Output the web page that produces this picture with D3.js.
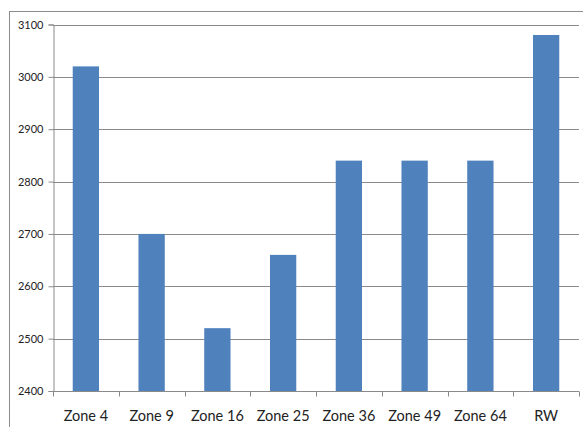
<!DOCTYPE html>
<html>
<head>
<meta charset="utf-8">
<script src="https://cdn.jsdelivr.net/npm/d3@7"></script>
<style>
  body { margin: 0; background: #fff; }
  svg text { font-family: Lato, "Open Sans", sans-serif; fill: #222; }
</style>
</head>
<body>
<div id="chart"></div>
<script>
// Data
var zones = ["Zone 4", "Zone 9", "Zone 16", "Zone 25", "Zone 36", "Zone 49", "Zone 64", "RW"];
var values = [3020, 2700, 2520, 2660, 2840, 2840, 2840, 3080];
var yTicks = [2400, 2500, 2600, 2700, 2800, 2900, 3000, 3100];

// Placement
var width = 583, height = 427,
  pLeft = 53, pRight = 579,
  pTop = 24.5, pBottom = 391;

var svg = d3.select("#chart")
  .append("svg")
  .attr("width", width)
  .attr("height", height);

// outer chart border
svg.append("rect")
  .attr("x", 9.5)
  .attr("y", 11.5)
  .attr("width", 600)
  .attr("height", 440)
  .attr("fill", "none")
  .attr("stroke", "#8c8c8c");

var x = d3.scaleBand()
  .domain(zones)
  .range([pLeft, pRight])
  .paddingInner(0.6)
  .paddingOuter(0.3);

var xTicks = d3.scaleBand().domain(zones).range([pLeft, pRight]);

var y = d3.scaleLinear()
  .domain([2400, 3100])
  .range([pBottom, pTop]);

// gridlines
svg.append("g").selectAll("line")
  .data(yTicks.slice(1))
  .enter().append("line")
  .attr("x1", pLeft)
  .attr("x2", pRight)
  .attr("y1", function(d) { return Math.round(y(d)) + 0.5; })
  .attr("y2", function(d) { return Math.round(y(d)) + 0.5; })
  .attr("stroke", "#8a8a8a");

// bars
svg.append("g").selectAll("rect")
  .data(values)
  .enter().append("rect")
  .attr("x", function(d, i) { return x(zones[i]); })
  .attr("width", x.bandwidth())
  .attr("y", function(d) { return y(d); })
  .attr("height", function(d) { return pBottom - y(d); })
  .attr("fill", "#4f81bd");

// y axis
var yAxis = svg.append("g")
  .attr("transform", "translate(" + (pLeft + 0.5) + ",0)")
  .call(d3.axisLeft(y).tickValues(yTicks).tickSize(5).tickPadding(5).tickFormat(d3.format("d")));
yAxis.selectAll("line").attr("stroke", "#8a8a8a");
yAxis.select(".domain").attr("stroke", "#8a8a8a");
yAxis.selectAll("text").style("font-size", "11px").attr("fill", "#222");

// x axis
var xAxis = svg.append("g")
  .attr("transform", "translate(0," + (pBottom + 0.5) + ")");
xAxis.append("line")
  .attr("x1", pLeft).attr("x2", pRight)
  .attr("stroke", "#8a8a8a");
xAxis.selectAll(".tick")
  .data(zones.concat(["end"]))
  .enter().append("line")
  .attr("x1", function(d, i) { return Math.round(pLeft + i * xTicks.bandwidth()) + 0.5; })
  .attr("x2", function(d, i) { return Math.round(pLeft + i * xTicks.bandwidth()) + 0.5; })
  .attr("y1", 0).attr("y2", 5)
  .attr("stroke", "#8a8a8a");
xAxis.selectAll("text")
  .data(zones)
  .enter().append("text")
  .attr("x", function(d) { return xTicks(d) + xTicks.bandwidth() / 2; })
  .attr("y", 29)
  .attr("text-anchor", "middle")
  .style("font-size", "14.5px")
  .text(function(d) { return d; });
</script>
</body>
</html>
